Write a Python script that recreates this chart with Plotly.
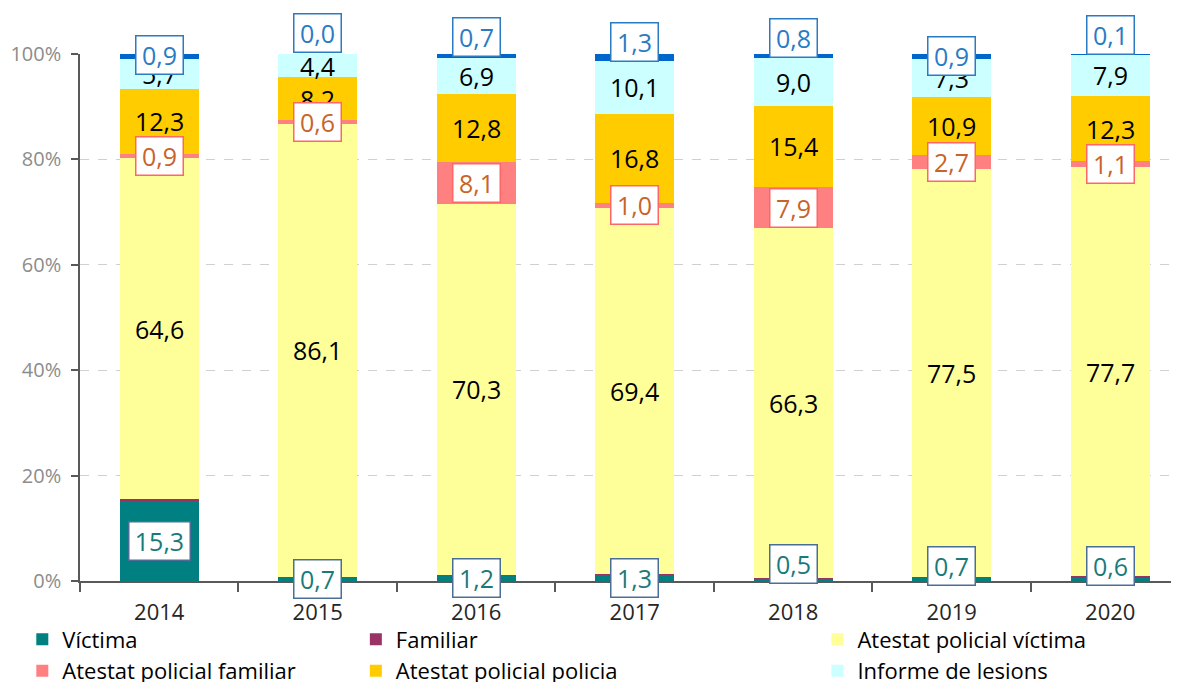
import plotly.graph_objects as go

years = ["2014", "2015", "2016", "2017", "2018", "2019", "2020"]
victima = [15.3, 0.7, 1.2, 1.3, 0.5, 0.7, 0.6]
familiar = [0.3, 0.0, 0.0, 0.1, 0.1, 0.0, 0.3]
atestat_victima = [64.6, 86.1, 70.3, 69.4, 66.3, 77.5, 77.7]
atestat_familiar = [0.9, 0.6, 8.1, 1.0, 7.9, 2.7, 1.1]
atestat_policia = [12.3, 8.2, 12.8, 16.8, 15.4, 10.9, 12.3]
informe = [5.7, 4.4, 6.9, 10.1, 9.0, 7.3, 7.9]
altres = [0.9, 0.0, 0.7, 1.3, 0.8, 0.9, 0.1]

# label nudges in pixels (upwards)
victima_label_shift = [0, 0, 0, 0, 16, 13, 13]
altres_label_shift = [1, 21, 19, 15, 18, 0, 19]

FONT = "Open Sans"

series = [
    ("Víctima", victima, "#008080", "legend"),
    ("Familiar", familiar, "#993366", "legend2"),
    ("Atestat policial víctima", atestat_victima, "#FFFF99", "legend3"),
    ("Atestat policial familiar", atestat_familiar, "#FF8080", "legend"),
    ("Atestat policial policia", atestat_policia, "#FFCC00", "legend2"),
    ("Informe de lesions", informe, "#CCFFFF", "legend3"),
    ("Altres", altres, "#0066CC", None),
]

fig = go.Figure()
for name, vals, col, lg in series:
    fig.add_trace(go.Bar(
        x=years, y=vals, name=name, marker=dict(color=col, line=dict(width=0)),
        width=0.5, showlegend=lg is not None, legend=lg if lg else "legend",
    ))

def fmt(v):
    return f"{v:.1f}".replace(".", ",")

# cumulative bottoms
bottoms = []
acc = [0.0] * len(years)
for _, vals, _, _ in series:
    bottoms.append(list(acc))
    acc = [a + v for a, v in zip(acc, vals)]

annotations = []
# plain black labels
for idx in (2, 4, 5):
    vals = series[idx][1]
    for i, y in enumerate(years):
        annotations.append(dict(
            x=i, y=bottoms[idx][i] + vals[i] / 2, xref="x", yref="y",
            text=fmt(vals[i]), showarrow=False,
            font=dict(family=FONT, size=25, color="#000000"),
        ))

def boxed(idx, textcol, bordercol, shifts):
    vals = series[idx][1]
    for i, y in enumerate(years):
        t = fmt(vals[i])
        annotations.append(dict(
            x=i, y=bottoms[idx][i] + vals[i] / 2, xref="x", yref="y",
            text=t, showarrow=False, yshift=shifts[i],
            font=dict(family=FONT, size=25, color=textcol),
            bgcolor="#FFFFFF", bordercolor=bordercol, borderwidth=1.5,
            borderpad=3, width=14 * len(t) - 2, height=31,
        ))

boxed(0, "#1A7A7A", "#4A6E96", victima_label_shift)
boxed(3, "#C8642A", "#FF6666", [0] * len(years))
boxed(6, "#2A7BC4", "#2A7BC4", altres_label_shift)

legend_common = dict(
    orientation="v", traceorder="normal", yanchor="top", xanchor="left",
    font=dict(family=FONT, size=22, color="#000000"), bgcolor="rgba(0,0,0,0)",
    itemclick=False, tracegroupgap=0,
)

# the page body adds an 8px offset; the figure is sized to fill the rest
fig.update_layout(
    width=1171, height=674,
    margin=dict(l=72, r=0, t=46, b=101, autoexpand=False),
    barmode="stack",
    plot_bgcolor="#FFFFFF", paper_bgcolor="#FFFFFF",
    font=dict(family=FONT),
    annotations=annotations,
    legend=dict(x=-0.0525, y=-0.071, **legend_common),
    legend2=dict(x=0.251, y=-0.071, **legend_common),
    legend3=dict(x=0.671, y=-0.071, **legend_common),
    xaxis=dict(
        type="category", range=[-0.5, 6.434], showgrid=False, automargin=False,
        showline=True, linecolor="#595959", linewidth=1.5,
        ticks="outside", tickson="boundaries", ticklen=9, tickcolor="#595959",
        tickwidth=1.5, ticklabelstandoff=11,
        tickfont=dict(family=FONT, size=22, color="#262626"),
    ),
    yaxis=dict(
        range=[0, 100], tickvals=[0, 20, 40, 60, 80, 100], automargin=False,
        ticktext=["0%", "20%", "40%", "60%", "80%", "100%"],
        showgrid=True, gridcolor="#D0D0D0", griddash="dash", gridwidth=1,
        showline=True, linecolor="#595959", linewidth=1.5,
        ticks="outside", ticklen=7, tickcolor="#595959", tickwidth=1.5,
        ticklabelstandoff=6,
        tickfont=dict(family=FONT, size=20, color="#8C8C8C"),
        zeroline=False,
    ),
)

fig.write_html("out.html")
